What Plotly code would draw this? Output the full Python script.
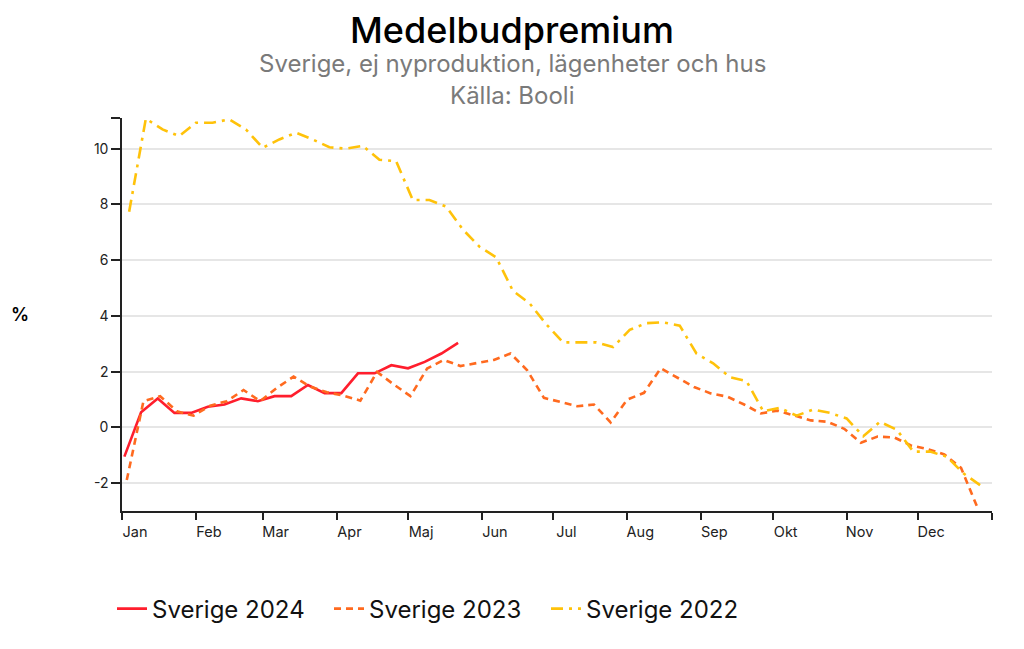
import pandas as pd
import plotly.graph_objects as go

# ---- data (weekly values, %) ----
sverige_2024 = [-1.05, 0.54, 1.04, 0.52, 0.52, 0.74, 0.82, 1.04, 0.94, 1.12, 1.12,
                1.52, 1.23, 1.23, 1.94, 1.94, 2.23, 2.12, 2.35, 2.65, 3.03]
sverige_2023 = [-1.89, 0.94, 1.12, 0.58, 0.42, 0.78, 0.94, 1.34, 0.94, 1.42, 1.82,
                1.46, 1.26, 1.14, 0.96, 1.99, 1.54, 1.12, 2.11, 2.42, 2.2, 2.32,
                2.42, 2.65, 2.05, 1.06, 0.92, 0.76, 0.82, 0.18, 1.0, 1.24, 2.12,
                1.78, 1.45, 1.22, 1.1, 0.82, 0.5, 0.6, 0.42, 0.25, 0.2, -0.05,
                -0.55, -0.33, -0.36, -0.65, -0.78, -0.97, -1.45, -2.9]
sverige_2022 = [7.74, 11.08, 10.69, 10.45, 10.93, 10.93, 11.05, 10.69, 10.03, 10.33,
                10.57, 10.33, 10.05, 10.0, 10.1, 9.6, 9.55, 8.16, 8.16, 7.92, 7.1,
                6.48, 6.1, 4.9, 4.45, 3.7, 3.05, 3.05, 3.05, 2.88, 3.5, 3.74, 3.77,
                3.65, 2.65, 2.3, 1.8, 1.66, 0.58, 0.7, 0.42, 0.64, 0.52, 0.32,
                -0.32, 0.2, -0.08, -0.87, -0.87, -1.05, -1.65, -2.07]

start_2024 = "2023-01-02"
start_2023 = "2023-01-03"
start_2022 = "2023-01-04"

month_starts = ["2023-01-01", "2023-02-01", "2023-03-01", "2023-04-01", "2023-05-01",
                "2023-06-01", "2023-07-01", "2023-08-01", "2023-09-01", "2023-10-01",
                "2023-11-01", "2023-12-01", "2024-01-01"]
month_labels = ["Jan", "Feb", "Mar", "Apr", "Maj", "Jun", "Jul", "Aug", "Sep", "Okt",
                "Nov", "Dec", ""]

y_ticks = [-2, 0, 2, 4, 6, 8, 10, 11.1]
y_labels = ["-2", "0", "2", "4", "6", "8", "10", ""]

series = [
    ("Sverige 2024", sverige_2024, start_2024, "#ff1e2d", "solid"),
    ("Sverige 2023", sverige_2023, start_2023, "#ff6a1f", "7px,5px"),
    ("Sverige 2022", sverige_2022, start_2022, "#ffc20a", "12px,6px,3px,6px"),
]

fig = go.Figure()
for name, vals, start, color, dash in series:
    x = pd.date_range(start, periods=len(vals), freq="7D")
    fig.add_trace(go.Scatter(
        x=x, y=vals, name=name, mode="lines",
        line=dict(color=color, width=2.6, dash=dash),
    ))

FONT = "Inter, Roboto, sans-serif"
W, H = 1016, 641
L, T, R, B = 114, 110, 32, 138
PH = H - T - B
PW = W - L - R


def py(screen_y):
    # convert a page y (px) to paper coordinate
    fig_y = screen_y - 8
    return (H - B - fig_y) / PH


def px(screen_x):
    return (screen_x - 8 - L) / PW


fig.update_layout(
    width=W, height=H,
    margin=dict(l=L, r=R, t=T, b=B),
    paper_bgcolor="white", plot_bgcolor="white",
    font=dict(family=FONT, color="#222222", size=14),
    showlegend=True,
    legend=dict(orientation="h", x=px(112), xanchor="left", y=py(609), yanchor="middle",
                font=dict(size=24, color="#111111", family=FONT),
                itemwidth=30, entrywidth=172, entrywidthmode="pixels"),
)
cx = px(512)
fig.add_annotation(text="Medelbudpremium", xref="paper", yref="paper",
                   x=cx, y=py(30), xanchor="center", yanchor="middle", borderpad=0,
                   showarrow=False, font=dict(size=36, color="#000000", family=FONT, weight=500))
fig.add_annotation(text="Sverige, ej nyproduktion, lägenheter och hus", xref="paper", yref="paper",
                   x=cx, y=py(63), xanchor="center", yanchor="middle",
                   showarrow=False, font=dict(size=24, color="#7a7a7a", family=FONT))
fig.add_annotation(text="Källa: Booli", xref="paper", yref="paper",
                   x=cx, y=py(95), xanchor="center", yanchor="middle",
                   showarrow=False, font=dict(size=24, color="#7a7a7a", family=FONT))
fig.add_annotation(text="%", xref="paper", yref="paper",
                   x=px(9), y=py(314), xanchor="left", yanchor="middle",
                   showarrow=False, font=dict(size=18, color="#000000", family=FONT, weight=600))

fig.update_xaxes(
    type="date", range=["2023-01-01", "2024-01-01"],
    tickmode="array", tickvals=month_starts, ticktext=month_labels,
    ticks="outside", ticklen=7, tickwidth=1.5, tickcolor="#222222",
    showline=True, linecolor="#222222", linewidth=1.5,
    showgrid=False, zeroline=False,
    ticklabelshift=13, tickfont=dict(size=14.5, color="#222222"),
)
fig.update_yaxes(
    range=[-3, 11.1],
    tickmode="array", tickvals=y_ticks, ticktext=y_labels,
    ticks="outside", ticklen=9, tickwidth=1.5, tickcolor="#222222",
    showline=True, linecolor="#222222", linewidth=1.5,
    showgrid=True, gridcolor="#e6e6e6", gridwidth=1.5,
    zeroline=False, tickfont=dict(size=14, color="#222222"),
)

fig.write_html("out.html")
